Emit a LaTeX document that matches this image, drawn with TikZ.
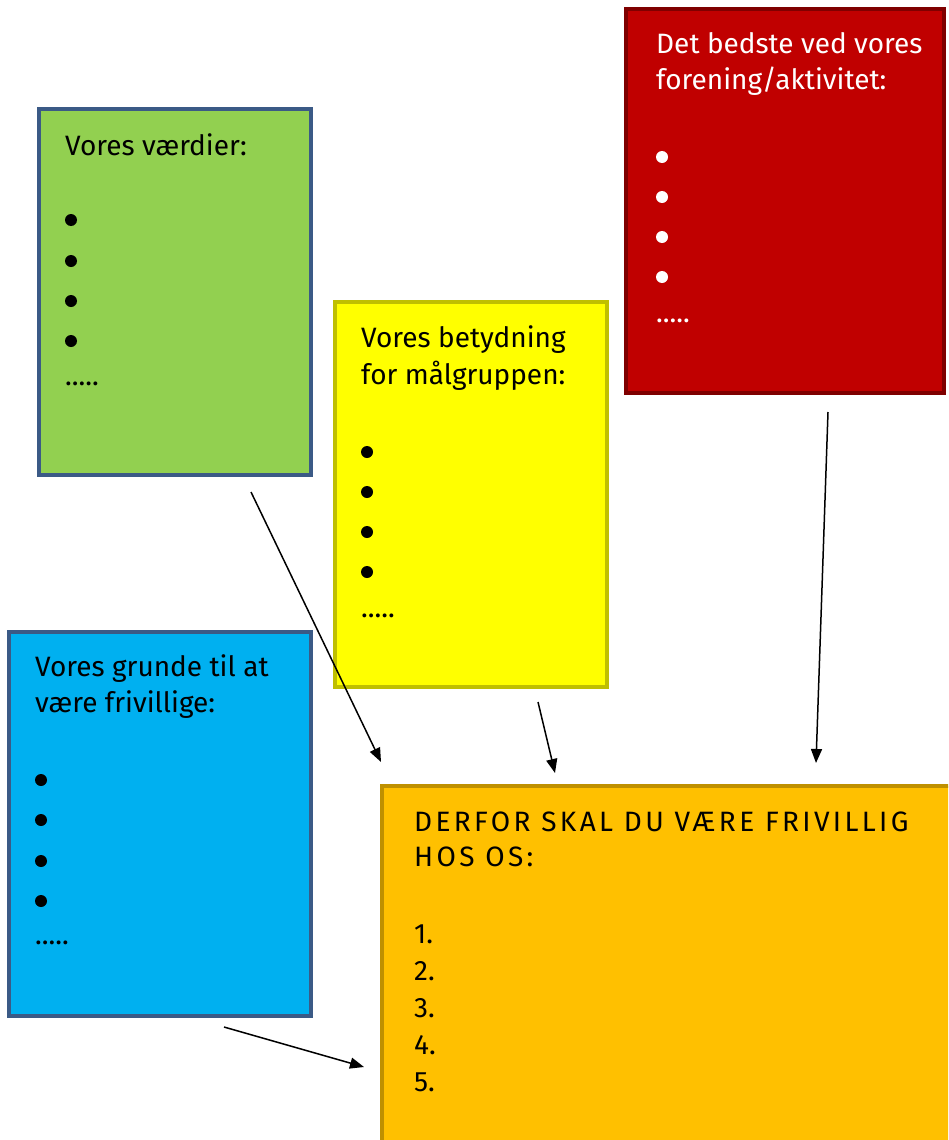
\documentclass[tikz,border=0pt]{standalone}
\usepackage{fontspec}
\setmainfont{Fira Sans}
\usetikzlibrary{arrows.meta}
\definecolor{cgreen}{HTML}{92D050}
\definecolor{cyell}{HTML}{FFFF00}
\definecolor{cyellb}{HTML}{BFBF00}
\definecolor{cred}{HTML}{C00000}
\definecolor{credb}{HTML}{7F0000}
\definecolor{cblue}{HTML}{00B0F0}
\definecolor{cblueb}{HTML}{3B5A86}
\definecolor{corange}{HTML}{FFC000}
\definecolor{coranb}{HTML}{BF9000}
\tikzset{
  card/.style={draw, line width=4pt, rectangle, inner sep=0pt, anchor=north west},
  txt/.style={anchor=base west, inner sep=0pt, font=\fontsize{28}{32}\selectfont},
  captxt/.style={txt, font=\fontsize{28}{32}\selectfont\addfontfeature{LetterSpace=12}},
  dot/.style={circle, fill, inner sep=0pt, minimum size=12pt},
  conn/.style={line width=1.5pt, -{Triangle[length=14pt,width=11pt]}}
}
\begin{document}
\begin{tikzpicture}[x=1pt,y=-1pt]
\useasboundingbox (0,0) rectangle (948,1140);
\clip (0,0) rectangle (948,1140);
% cards
\node[card, fill=cgreen, draw=cblueb, minimum width=272pt, minimum height=366pt] (green) at (37,107) {};
\node[card, fill=cyell, draw=cyellb, minimum width=272pt, minimum height=385pt] (yellow) at (333,300) {};
\node[card, fill=cred, draw=credb, minimum width=318pt, minimum height=384pt] (red) at (624,7) {};
\node[card, fill=cblue, draw=cblueb, minimum width=302pt, minimum height=384pt] (blue) at (7,630) {};
\node[card, fill=corange, draw=coranb, minimum width=600pt, minimum height=400pt] (orange) at (380,784) {};
% green text
\node[txt] (g1) at (65,155) {Vores værdier:};
\node[dot] (gb1) at (71,220) {};
\node[dot] (gb2) at (71,261) {};
\node[dot] (gb3) at (71,301) {};
\node[dot] (gb4) at (71,341) {};
\node[txt] (gd) at (65,385) {.....};
% yellow text
\node[txt] (y1) at (361,347) {Vores betydning};
\node[txt] (y2) at (361,384) {for målgruppen:};
\node[dot] (yb1) at (367,452) {};
\node[dot] (yb2) at (367,492) {};
\node[dot] (yb3) at (367,532) {};
\node[dot] (yb4) at (367,572) {};
\node[txt] (yd) at (361,617) {.....};
% red text
\node[txt, text=white] (r1) at (656,53) {Det bedste ved vores};
\node[txt, text=white] (r2) at (656,89) {forening/aktivitet:};
\node[dot, fill=white] (rb1) at (662,157) {};
\node[dot, fill=white] (rb2) at (662,197) {};
\node[dot, fill=white] (rb3) at (662,237) {};
\node[dot, fill=white] (rb4) at (662,277) {};
\node[txt, text=white] (rd) at (656,322) {.....};
% blue text
\node[txt] (b1) at (35,676) {Vores grunde til at};
\node[txt] (b2) at (35,712) {være frivillige:};
\node[dot] (bb1) at (41,780) {};
\node[dot] (bb2) at (41,820) {};
\node[dot] (bb3) at (41,861) {};
\node[dot] (bb4) at (41,901) {};
\node[txt] (bd) at (35,944) {.....};
% orange text
\node[captxt] (o1) at (414,831) {DERFOR SKAL DU VÆRE FRIVILLIG};
\node[captxt] (o2) at (414,866) {HOS OS:};
\node[txt] (n1) at (414,943) {1.};
\node[txt] (n2) at (414,980) {2.};
\node[txt] (n3) at (414,1017) {3.};
\node[txt] (n4) at (414,1054) {4.};
\node[txt] (n5) at (414,1091) {5.};
% connector ends
\coordinate (s1) at (251,492);
\coordinate (e1) at (381,762);
\coordinate (s2) at (538,702);
\coordinate (e2) at (555,773);
\coordinate (s3) at (828,412);
\coordinate (e3) at (816,763);
\coordinate (s4) at (224,1027);
\coordinate (e4) at (364,1067);
\draw[conn] (s1) -- (e1);
\draw[conn] (s2) -- (e2);
\draw[conn] (s3) -- (e3);
\draw[conn] (s4) -- (e4);
\end{tikzpicture}
\end{document}
